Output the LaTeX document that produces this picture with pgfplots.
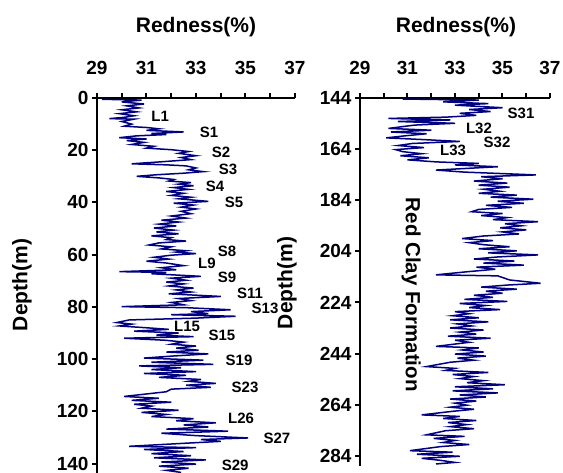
\documentclass[border=0pt]{standalone}
\usepackage{fontspec}
\setmainfont{Liberation Sans}
\usepackage{pgfplots}
\usepackage{pgfplotstable}
\pgfplotsset{compat=1.18}
\definecolor{trace}{HTML}{000080}

% redness (%) against depth (m), upper section
\pgfplotstableread{
r d
29.2 0.5
30.8 0.8
30.0 1.5
30.9 2.3
30.2 3.0
30.7 3.8
30.0 4.5
30.6 5.3
29.9 6.0
30.5 6.8
30.1 7.4
29.5 7.9
30.5 8.1
30.0 9.0
30.4 10.0
30.1 10.8
31.0 11.3
31.5 11.8
31.0 12.4
32.5 13.0
31.2 13.6
31.8 14.0
30.6 14.5
29.9 15.2
31.0 15.7
30.2 16.3
30.9 17.0
30.4 17.8
31.3 18.5
31.0 19.2
32.0 19.8
32.7 20.5
32.3 21.2
33.0 22.1
32.4 22.8
32.8 23.6
31.5 24.5
30.4 25.2
31.8 25.6
32.6 26.0
33.0 26.8
32.7 27.5
33.3 28.2
32.5 28.8
31.4 29.4
30.6 30.0
31.5 30.6
32.1 31.2
31.9 31.8
32.8 32.4
32.3 33.0
32.9 33.6
32.1 34.3
32.7 35.0
31.8 35.8
32.5 36.5
32.0 37.3
32.8 38.0
32.3 38.6
33.5 39.6
32.1 40.3
32.9 41.0
32.4 41.8
33.0 42.5
32.4 43.4
32.8 44.3
32.0 45.2
32.6 46.0
31.6 46.8
32.3 47.5
31.5 48.3
32.2 49.0
31.3 49.8
32.1 50.6
31.4 51.3
32.3 52.0
31.2 52.8
32.0 53.5
31.8 54.2
32.6 54.8
31.5 55.5
31.1 56.3
32.0 57.0
31.6 57.8
32.6 58.5
32.2 59.0
33.0 59.6
32.0 60.2
31.3 61.0
31.9 61.7
31.0 62.5
31.8 63.2
32.5 64.2
31.6 65.0
32.2 65.8
29.9 66.5
31.8 66.8
31.2 67.3
33.2 68.3
32.0 69.0
32.6 69.8
31.8 70.5
32.5 71.2
31.9 72.0
32.9 72.8
32.2 73.5
32.8 74.3
31.9 75.0
34.0 76.0
32.3 76.8
32.8 77.6
32.0 78.3
32.5 79.2
30.0 79.9
32.6 80.3
34.4 81.1
32.8 81.8
33.5 82.6
32.0 83.0
34.6 83.6
33.0 84.3
30.3 85.0
29.8 86.0
30.4 86.6
29.9 87.3
31.0 88.0
31.9 88.6
30.5 89.3
32.3 90.0
31.4 90.8
32.9 91.4
30.1 92.0
31.8 92.8
32.5 93.5
32.0 94.3
33.0 95.0
32.2 95.8
33.1 96.6
31.8 97.3
33.5 98.0
32.1 98.8
30.9 99.6
33.3 100.4
31.2 101.2
33.7 102.0
30.7 102.6
32.4 103.3
31.2 104.0
33.0 104.8
30.9 105.5
32.6 106.2
31.5 107.0
33.2 107.8
32.7 108.5
33.8 109.3
32.6 110.0
33.6 110.8
32.0 111.5
31.8 112.5
30.1 114.3
31.5 115.0
30.4 115.8
32.0 116.5
30.5 117.3
31.2 118.0
30.8 118.8
32.3 119.6
30.8 120.4
31.8 121.2
31.2 122.0
32.9 122.8
32.2 123.6
33.8 124.4
32.5 125.2
33.5 126.0
31.8 126.8
34.3 127.6
31.6 128.4
33.0 129.3
35.1 130.2
33.2 130.8
34.0 131.5
32.6 132.2
30.3 133.4
33.0 133.9
30.9 134.6
32.5 135.4
31.2 136.2
32.8 137.0
31.3 137.8
33.4 138.6
31.6 139.4
33.0 140.2
31.5 141.0
32.7 141.8
31.8 142.6
32.4 143.4
}\upperdata

% lower section, Red Clay Formation
\pgfplotstableread{
r d
30.8 144.4
34.0 144.8
32.5 145.5
34.4 146.2
33.0 146.8
35.0 147.8
33.6 148.5
34.5 149.3
33.2 150.0
33.9 150.8
32.6 151.5
30.2 152.0
32.8 152.6
30.6 153.2
33.0 153.9
31.3 154.6
30.2 155.9
32.0 156.6
30.3 157.3
31.8 158.0
30.9 158.8
30.1 159.6
31.5 160.2
33.2 161.0
31.2 161.8
30.6 162.6
31.7 163.4
30.5 164.2
30.8 165.0
31.6 165.8
30.7 166.6
31.9 167.4
31.0 168.2
32.2 169.0
34.0 169.6
33.0 170.2
34.8 170.9
32.2 172.2
33.4 173.0
36.4 174.1
34.1 174.8
35.0 175.6
33.8 176.5
35.2 177.3
34.0 178.1
35.3 178.9
34.2 179.7
34.9 180.5
34.0 181.3
35.6 182.0
34.5 182.8
36.3 183.6
34.8 184.4
35.9 185.2
34.3 186.0
35.4 186.8
34.0 187.6
33.7 188.5
35.0 189.2
34.1 190.0
35.2 190.8
34.6 191.6
36.5 192.4
35.1 193.2
35.8 194.0
34.9 194.8
36.0 195.6
35.0 196.4
35.7 197.2
34.2 198.0
33.3 199.0
34.6 199.8
33.6 200.6
34.2 201.4
35.3 202.2
34.0 203.0
35.6 203.8
34.4 204.6
36.5 205.4
34.8 206.2
33.8 207.0
35.5 207.8
34.2 208.6
35.9 209.4
33.9 210.2
34.7 211.0
33.5 212.0
32.2 213.2
34.8 213.6
35.3 215.2
36.6 216.5
35.2 217.2
34.1 218.0
35.6 218.8
34.3 219.6
35.0 220.4
33.8 221.2
34.6 222.0
33.4 222.8
35.2 223.6
33.2 224.4
34.3 225.2
33.6 226.0
34.9 226.8
33.0 227.6
33.6 228.4
32.9 229.2
34.0 230.0
32.8 230.8
34.4 231.6
33.1 232.4
33.7 233.2
32.8 234.0
34.2 234.8
33.2 235.6
33.9 236.4
32.7 237.2
34.5 238.0
33.0 238.8
33.6 239.6
32.2 241.2
34.0 241.8
33.3 242.6
34.2 243.4
33.0 244.2
34.3 245.0
33.1 245.8
33.8 246.6
32.8 247.4
31.8 249.1
33.0 249.8
32.6 250.6
34.4 251.4
32.9 252.2
33.8 253.0
33.2 253.8
34.2 254.6
33.5 255.4
35.1 256.2
33.0 257.0
34.6 257.8
32.9 258.6
34.8 259.4
33.2 260.2
34.3 261.0
32.8 261.8
33.9 262.6
33.0 263.4
33.5 264.2
32.8 265.0
33.8 265.8
32.9 266.6
31.6 268.0
33.2 268.6
32.5 269.4
33.9 270.2
32.7 271.0
33.5 271.8
32.8 272.6
33.8 273.4
32.6 274.2
31.8 275.8
33.4 276.4
32.1 277.2
33.0 278.0
32.5 278.8
33.6 279.6
32.4 280.4
31.1 282.0
32.9 282.6
31.4 283.4
33.2 284.2
31.6 285.0
32.4 285.8
33.0 286.6
32.2 287.2
}\lowerdata

\pgfplotsset{
  core/.style={
    scale only axis, y dir=reverse, clip=false,
    axis x line=top, axis y line=left,
    axis line style={line width=2.4pt, -},
    xmin=29, xmax=37,
    xtick={29,31,...,37}, minor xtick={30,32,34,36},
    tick align=outside, major tick length=5pt, minor tick length=5pt,
    every tick/.style={black, line width=2pt},
    /pgf/number format/assume math mode=true,
    ticklabel style={font=\fontsize{19}{19}\selectfont\bfseries},
    xticklabel style={yshift=15pt},
  },
}
\tikzset{lab/.style={font=\fontsize{15}{15}\selectfont\bfseries}}

\begin{document}
\begin{tikzpicture}[x=1pt,y=1pt]
\path[use as bounding box] (0,0) rectangle (563,473);

\begin{axis}[core, at={(97pt,-1pt)}, anchor=south west,
  width=198pt, height=376pt, ymin=0, ymax=144, ytick={0,20,...,140}]
  \addplot[trace, line width=1.5pt] table[x=r, y=d] {\upperdata};
  \node[lab] at (axis cs:31.55,6.9) {L1};
  \node[lab] at (axis cs:33.53,13.0) {S1};
  \node[lab] at (axis cs:34.01,20.7) {S2};
  \node[lab] at (axis cs:34.29,27.2) {S3};
  \node[lab] at (axis cs:33.77,34.0) {S4};
  \node[lab] at (axis cs:34.54,39.8) {S5};
  \node[lab] at (axis cs:34.25,58.9) {S8};
  \node[lab] at (axis cs:33.44,63.5) {L9};
  \node[lab] at (axis cs:34.25,68.5) {S9};
  \node[lab] at (axis cs:35.18,75.0) {S11};
  \node[lab] at (axis cs:35.79,80.7) {S13};
  \node[lab] at (axis cs:32.64,87.6) {L15};
  \node[lab] at (axis cs:34.05,91.0) {S15};
  \node[lab] at (axis cs:34.74,100.6) {S19};
  \node[lab] at (axis cs:34.98,110.9) {S23};
  \node[lab] at (axis cs:34.82,122.8) {L26};
  \node[lab] at (axis cs:36.27,130.5) {S27};
  \node[lab] at (axis cs:34.58,140.8) {S29};
\end{axis}

\begin{axis}[core, at={(360pt,7pt)}, anchor=south west,
  width=190pt, height=368pt, ymin=144, ymax=288, ytick={144,164,...,284}]
  \addplot[trace, line width=1.5pt] table[x=r, y=d] {\lowerdata};
  \node[lab] at (axis cs:35.78,149.9) {S31};
  \node[lab] at (axis cs:34.01,155.7) {L32};
  \node[lab] at (axis cs:34.77,161.2) {S32};
  \node[lab] at (axis cs:32.92,164.3) {L33};
  \node[font=\fontsize{20.5}{20.5}\selectfont\bfseries, rotate=-90]
    at (axis cs:31.15,221.0) {Red Clay Formation};
\end{axis}

\node[font=\fontsize{21}{21}\selectfont\bfseries] at (196,446) {Redness(\%)};
\node[font=\fontsize{21}{21}\selectfont\bfseries] at (456,446) {Redness(\%)};
\node[font=\fontsize{21}{21}\selectfont\bfseries, rotate=90] at (22,188) {Depth(m)};
\node[font=\fontsize{21}{21}\selectfont\bfseries, rotate=90] at (287,190) {Depth(m)};
\end{tikzpicture}
\end{document}
